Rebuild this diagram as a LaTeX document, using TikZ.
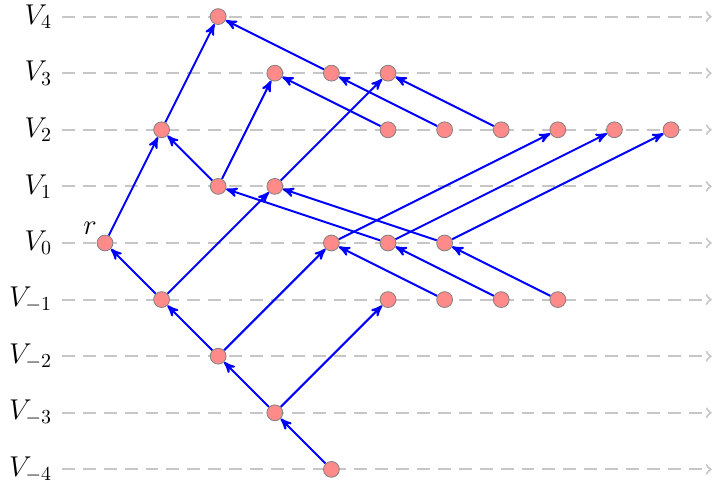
\documentclass[tikz,border=0pt]{standalone}
\usepackage{tikz}
\usetikzlibrary{arrows,positioning,backgrounds}
\definecolor{vfill}{RGB}{255,138,138}
\newcommand{\vr}{0.14}
\newcommand{\vnode}[3]{
  \node [vert] (#3) at (#1,#2) {};
}
\newcommand{\vedge}[2]{
  \begin{scope}[on background layer]
    \draw [arc] (#1) -- (#2);
  \end{scope}
}

\begin{document}
\begin{tikzpicture}[>=stealth',
  vert/.style={circle,draw=gray,fill=vfill,inner sep=0pt,minimum size=2*\vr cm},
  arc/.style={->,line width=1pt,blue},
  level/.style={-to,line width=1pt,gray!45,dash pattern=on 6.5pt off 4pt}]
  \useasboundingbox (-1.855,-4.293) rectangle (10.777,4.293);

  % levels
  \foreach \l in {-4,...,4} {
    \node [anchor=east,inner sep=0pt,font=\Large] (L\l) at (-0.93,\l) {$V_{\l}$};
    \coordinate (S\l) at (-0.76,\l);
    \coordinate (E\l) at (10.72,\l);
    \begin{scope}[on background layer]
      \draw [level] (S\l) -- (E\l);
    \end{scope}
  }

  \vnode{0}{0}{r}
  \node [above left=1pt and 1pt of r,inner sep=0pt,font=\Large] (rl) {$r$};
  \vnode{1}{2}{b}
  \vnode{2}{4}{c}
  \vnode{1}{-1}{d}
  \vnode{2}{-2}{e}
  \vnode{3}{-3}{f}
  \vnode{4}{-4}{g}
  \vnode{2}{1}{h}
  \vnode{3}{1}{i}
  \vnode{3}{3}{j}
  \vnode{4}{3}{k}
  \vnode{5}{3}{l}
  \vnode{5}{2}{m}
  \vnode{6}{2}{n}
  \vnode{7}{2}{o}
  \vnode{8}{2}{p}
  \vnode{9}{2}{q}
  \vnode{10}{2}{s}
  \vnode{4}{0}{t}
  \vnode{5}{0}{u}
  \vnode{6}{0}{w}
  \vnode{5}{-1}{x}
  \vnode{6}{-1}{y}
  \vnode{7}{-1}{z}
  \vnode{8}{-1}{zz}

  \vedge{r}{b}
  \vedge{b}{c}
  \vedge{d}{r}
  \vedge{d}{i}
  \vedge{i}{l}
  \vedge{h}{b}
  \vedge{h}{j}
  \vedge{e}{d}
  \vedge{e}{t}
  \vedge{f}{e}
  \vedge{f}{x}
  \vedge{g}{f}
  \vedge{k}{c}
  \vedge{m}{j}
  \vedge{n}{k}
  \vedge{o}{l}
  \vedge{t}{p}
  \vedge{u}{q}
  \vedge{w}{s}
  \vedge{u}{h}
  \vedge{w}{i}
  \vedge{y}{t}
  \vedge{z}{u}
  \vedge{zz}{w}
\end{tikzpicture}
\end{document}
